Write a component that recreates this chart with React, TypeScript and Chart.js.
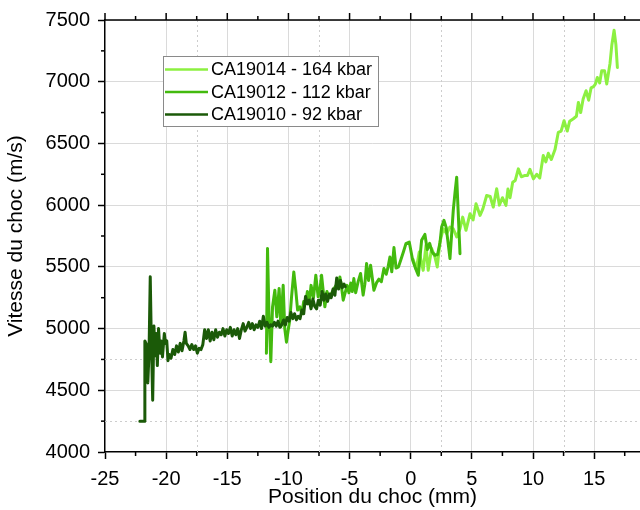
import React, { useEffect, useRef } from "react";
import { Chart, registerables } from "chart.js";

Chart.register(...registerables);

// ---- Data ----
const LABEL_HIGH = "CA19014 - 164 kbar";
const LABEL_MID = "CA19012 - 112 kbar";
const LABEL_LOW = "CA19010 - 92 kbar";

const X_TITLE = "Position du choc (mm)";
const Y_TITLE = "Vitesse du choc (m/s)";

const X_MIN = -25;
const X_MAX = 18.75;
const Y_MIN = 4000;
const Y_MAX = 7500;
const X_STEP = 5;
const Y_STEP = 500;
const X_MINOR_GRID = [-17.5, -7.5, 2.5, 12.5];
const Y_MINOR_GRID = [4250, 4750];

// CA19010 - 92 kbar (dark green)
const lowX = [
  -22.15, -21.78, -21.74, -21.6, -21.5, -21.4, -21.3, -21.22, -21.1, -21.0, -20.9, -20.8, -20.72, -20.62,
  -20.5, -20.4, -20.3, -20.15, -20.05, -19.95, -19.85, -19.75, -19.6, -19.45, -19.3, -19.15, -19.0, -18.85,
  -18.7, -18.55, -18.45, -18.35, -18.2, -18.05, -17.9, -17.75, -17.6, -17.45, -17.3, -17.15, -17.0, -16.85,
  -16.7, -16.55, -16.4, -16.25, -16.1, -15.95, -15.8, -15.65, -15.5, -15.35, -15.2, -15.05, -14.9, -14.75,
  -14.6, -14.45, -14.3, -14.15, -14.0, -13.85, -13.7, -13.55, -13.4, -13.25, -13.1, -12.95, -12.8, -12.65,
  -12.5, -12.35, -12.2, -12.05, -11.9, -11.75, -11.6, -11.45, -11.3, -11.15, -11.0, -10.85, -10.7, -10.55,
  -10.4, -10.25, -10.1, -9.95, -9.8, -9.65, -9.5, -9.35, -9.2, -9.05, -8.9, -8.75, -8.6, -8.45, -8.3, -8.15,
  -8.0, -7.85, -7.7, -7.55, -7.4, -7.25, -7.1, -6.95, -6.8, -6.65, -6.5, -6.35, -6.2, -6.05, -5.9, -5.75,
  -5.6, -5.45, -5.35,
];
const lowY = [
  4250, 4250, 4900, 4870, 4560, 4800, 5420, 4950, 4420, 5020, 4780, 4960, 4700, 5000,
  4800, 4900, 4770, 4960, 4880, 4900, 4740, 4790, 4760, 4830, 4790, 4860, 4810, 4880,
  4820, 4900, 4970, 4880, 4860, 4830, 4870, 4830, 4860, 4800, 4840, 4830, 4870, 4990,
  4920, 4990, 4900, 4970, 4910, 4990, 4930, 4970, 4950, 5000, 4940, 4990, 4960, 5010,
  4940, 4990, 4950, 5000, 4920, 4990, 5040, 4980, 5010, 5050, 5000, 5040, 4990, 5030,
  5010, 5060, 5000, 5100, 5020, 5050, 5010, 5030, 5020, 5050, 5020, 5060, 5010, 5030,
  5070, 5030, 5090, 5060, 5130, 5080, 5120, 5070, 5100, 5080, 5150, 5120, 5260, 5200, 5230, 5160,
  5240, 5180, 5160, 5230, 5190, 5300, 5230, 5280, 5220, 5280, 5250, 5320, 5270, 5410, 5320, 5390,
  5330, 5360, 5340,
];

// CA19012 - 112 kbar (medium green)
const midX = [
  -11.8, -11.71, -11.6, -11.44, -11.3, -11.11, -10.95, -10.76, -10.62, -10.43, -10.3, -10.16, -10.0, -9.89,
  -9.75, -9.56, -9.4, -9.25, -9.07, -8.9, -8.75, -8.6, -8.45, -8.3, -8.15, -7.95, -7.76, -7.57, -7.42, -7.29,
  -7.15, -7.02, -6.85, -6.7, -6.5, -6.3, -6.1, -5.95, -5.79, -5.65, -5.52, -5.38, -5.2, -5.05, -4.9, -4.78,
  -4.65, -4.5, -4.3, -4.1, -3.89, -3.75, -3.61, -3.45, -3.28, -3.01, -2.8, -2.6, -2.4, -2.19, -2.0, -1.85,
  -1.7, -1.55, -1.37, -1.2, -1.0, -0.8, -0.6, -0.39, -0.12, 0.16, 0.35, 0.62, 0.89, 1.16, 1.35, 1.55, 1.75,
  1.98, 2.2, 2.4, 2.53, 2.72, 2.9, 3.05, 3.21, 3.48, 3.62, 3.76, 3.88, 4.03,
];
const midY = [
  4800, 5648, 5150, 4732, 5176, 5311, 5095, 5325, 5015, 5351, 5000, 4890, 5000, 5069,
  5250, 5459, 5311, 5150, 5176, 5120, 5220, 5200, 5300, 5200, 5350, 5250, 5432, 5257, 5320, 5432,
  5300, 5176, 5300, 5250, 5280, 5320, 5350, 5330, 5418, 5330, 5230, 5284, 5350, 5290, 5370, 5300,
  5405, 5290, 5380, 5446, 5271, 5360, 5527, 5390, 5513, 5311, 5370, 5400, 5380, 5486, 5440, 5500,
  5580, 5460, 5656, 5490, 5500, 5560, 5620, 5688, 5701, 5553, 5500, 5432, 5715, 5763, 5640, 5690, 5620,
  5594, 5600, 5700, 5823, 5877, 5820, 5700, 5567, 5957, 6100, 6226, 5950, 5607,
];

// CA19014 - 164 kbar (light green)
const highX = [
  0.2, 0.45, 0.7, 1.02, 1.25, 1.43, 1.71, 1.98, 2.17, 2.39, 2.66, 2.94, 3.21, 3.48, 3.76, 4.03, 4.25, 4.52,
  4.85, 5.1, 5.34, 5.67, 5.9, 6.21, 6.5, 6.75, 7.03, 7.25, 7.5, 7.79, 7.95, 8.12, 8.34, 8.55, 8.8, 9.05,
  9.3, 9.55, 9.75, 10.03, 10.3, 10.55, 10.84, 11.05, 11.25, 11.5, 11.8, 12.07, 12.3, 12.54, 12.8, 13.0,
  13.3, 13.55, 13.71, 13.9, 14.1, 14.34, 14.55, 14.75, 14.95, 15.1, 15.26, 15.45, 15.62, 15.85, 16.03,
  16.3, 16.45, 16.63, 16.78, 16.9,
];
const highY = [
  5560, 5480, 5620, 5472, 5675, 5472, 5648, 5580, 5499, 5701, 5809, 5769, 5823, 5809, 5742, 5810, 5903, 5796,
  5931, 5880, 6011, 5917, 5970, 6078, 6070, 5984, 6133, 6000, 6060, 5998, 6130, 6060, 6186, 6200, 6294, 6230,
  6240, 6240, 6290, 6213, 6250, 6220, 6402, 6350, 6420, 6370, 6450, 6590, 6600, 6684, 6600, 6680,
  6700, 6720, 6832, 6750, 6860, 6927, 6850, 6950, 6960, 6980, 7034, 6990, 7088, 7088, 6981,
  7150, 7300, 7417, 7300, 7115,
];

const COLOR_HIGH = "#8cf041";
const COLOR_MID = "#43ba0e";
const COLOR_LOW = "#1b5a08";

const FONT = "'Liberation Sans', Arial, Helvetica, sans-serif";

const toPoints = (xs: number[], ys: number[]) => xs.map((x, i) => ({ x, y: ys[i] }));

const decorPlugin = {
  id: "decor",
  beforeDatasetsDraw(chart: any) {
    const { ctx, chartArea: a, scales } = chart;
    const x = scales.x;
    const y = scales.y;
    ctx.save();
    ctx.strokeStyle = "#cdcdcd";
    ctx.lineWidth = 1;
    ctx.setLineDash([2, 3]);
    for (const v of X_MINOR_GRID) {
      const px = Math.round(x.getPixelForValue(v)) + 0.5;
      ctx.beginPath();
      ctx.moveTo(px, a.top);
      ctx.lineTo(px, a.bottom);
      ctx.stroke();
    }
    for (const v of Y_MINOR_GRID) {
      const py = Math.round(y.getPixelForValue(v)) + 0.5;
      ctx.beginPath();
      ctx.moveTo(a.left, py);
      ctx.lineTo(a.right, py);
      ctx.stroke();
    }
    ctx.restore();
  },
  afterDraw(chart: any) {
    const { ctx, chartArea: a, scales } = chart;
    const x = scales.x;
    const y = scales.y;
    ctx.save();
    ctx.strokeStyle = "#000";
    ctx.lineWidth = 1.5;
    // top frame
    ctx.beginPath();
    ctx.moveTo(a.left, a.top);
    ctx.lineTo(a.right, a.top);
    ctx.stroke();
    // x ticks: minor on bottom, major+minor on top
    for (let v = X_MIN; v <= X_MAX + 1e-9; v += X_STEP / 2) {
      const px = x.getPixelForValue(v);
      const major = Math.abs(v / X_STEP - Math.round(v / X_STEP)) < 1e-6;
      ctx.beginPath();
      if (!major) {
        ctx.moveTo(px, a.bottom);
        ctx.lineTo(px, a.bottom + 4);
      }
      ctx.moveTo(px, a.top);
      ctx.lineTo(px, a.top - (major ? 7 : 4));
      ctx.stroke();
    }
    // y minor ticks
    for (let v = Y_MIN; v <= Y_MAX; v += Y_STEP / 2) {
      if (v % Y_STEP === 0) continue;
      const py = y.getPixelForValue(v);
      ctx.beginPath();
      ctx.moveTo(a.left, py);
      ctx.lineTo(a.left - 4, py);
      ctx.stroke();
    }
    // legend
    const lx = a.left + 58;
    const ly = a.top + 36;
    const w = 215;
    const h = 70;
    ctx.fillStyle = "#fff";
    ctx.fillRect(lx, ly, w, h);
    ctx.strokeStyle = "#8a8a8a";
    ctx.lineWidth = 1;
    ctx.strokeRect(lx + 0.5, ly + 0.5, w, h);
    const datasets = chart.data.datasets;
    const order = [0, 1, 2];
    ctx.font = `18px ${FONT}`;
    ctx.textBaseline = "middle";
    ctx.textAlign = "left";
    order.forEach((di, i) => {
      const ds = datasets[di];
      const ry = ly + 13.5 + i * 22.5;
      ctx.strokeStyle = ds.borderColor;
      ctx.lineWidth = 2.5;
      ctx.beginPath();
      ctx.moveTo(lx + 2, ry);
      ctx.lineTo(lx + 45, ry);
      ctx.stroke();
      ctx.fillStyle = "#000";
      ctx.fillText(ds.label, lx + 48, ry + 1);
    });
    ctx.restore();
  },
};

const lineStyle = {
  borderWidth: 3,
  pointRadius: 0,
  tension: 0,
  borderJoinStyle: "round" as const,
  borderCapStyle: "round" as const,
};

export default function App() {
  const ref = useRef<HTMLCanvasElement | null>(null);
  useEffect(() => {
    if (!ref.current) return;
    const chart = new Chart(ref.current, {
      type: "line",
      data: {
        datasets: [
          {
            label: LABEL_HIGH,
            data: toPoints(highX, highY),
            borderColor: COLOR_HIGH,
            backgroundColor: COLOR_HIGH,
            ...lineStyle,
            order: 3,
          },
          {
            label: LABEL_MID,
            data: toPoints(midX, midY),
            borderColor: COLOR_MID,
            backgroundColor: COLOR_MID,
            ...lineStyle,
            order: 2,
          },
          {
            label: LABEL_LOW,
            data: toPoints(lowX, lowY),
            borderColor: COLOR_LOW,
            backgroundColor: COLOR_LOW,
            ...lineStyle,
            order: 1,
          },
        ],
      },
      options: {
        animation: false,
        responsive: false,
        devicePixelRatio: 1,
        parsing: false as any,
        layout: { padding: { top: 19, right: 0, bottom: 0, left: 0 } },
        plugins: {
          legend: { display: false },
          tooltip: { enabled: false },
        },
        scales: {
          x: {
            type: "linear",
            min: X_MIN,
            max: X_MAX,
            afterFit: (s: any) => {
              s.height = 58;
            },
            ticks: {
              stepSize: X_STEP,
              includeBounds: false,
              autoSkip: false,
              maxRotation: 0,
              padding: 8,
              color: "#000",
              font: { family: FONT, size: 20 },
              callback: (v: any) => String(v),
            },
            grid: {
              color: (c: any) => (c.tick && c.tick.value !== X_MIN ? "#dadada" : "rgba(0,0,0,0)"),
              lineWidth: 1,
              tickColor: "#000",
              tickLength: 7,
              tickWidth: 1.5,
            },
            border: { display: true, color: "#000", width: 1.5 },
            title: {
              display: true,
              text: X_TITLE,
              color: "#000",
              font: { family: FONT, size: 21 },
              padding: { top: 0, bottom: 0 },
            },
          },
          y: {
            type: "linear",
            min: Y_MIN,
            max: Y_MAX,
            afterFit: (s: any) => {
              s.width = 105;
            },
            ticks: {
              stepSize: Y_STEP,
              autoSkip: false,
              padding: 8,
              color: "#000",
              font: { family: FONT, size: 20 },
              callback: (v: any) => String(v),
            },
            grid: {
              color: (c: any) => (c.tick && c.tick.value !== Y_MIN ? "#dadada" : "rgba(0,0,0,0)"),
              lineWidth: 1,
              tickColor: "#000",
              tickLength: 7,
              tickWidth: 1.5,
            },
            border: { display: true, color: "#000", width: 1.5 },
            title: {
              display: true,
              text: Y_TITLE,
              color: "#000",
              font: { family: FONT, size: 21 },
              padding: { top: 4, bottom: 0 },
            },
          },
        },
      },
      plugins: [decorPlugin],
    });
    return () => chart.destroy();
  }, []);

  return (
    <div style={{ position: "fixed", left: 0, top: 0, width: 640, height: 510, background: "#fff" }}>
      <canvas ref={ref} width={640} height={510} style={{ width: 640, height: 510, display: "block" }} />
    </div>
  );
}
